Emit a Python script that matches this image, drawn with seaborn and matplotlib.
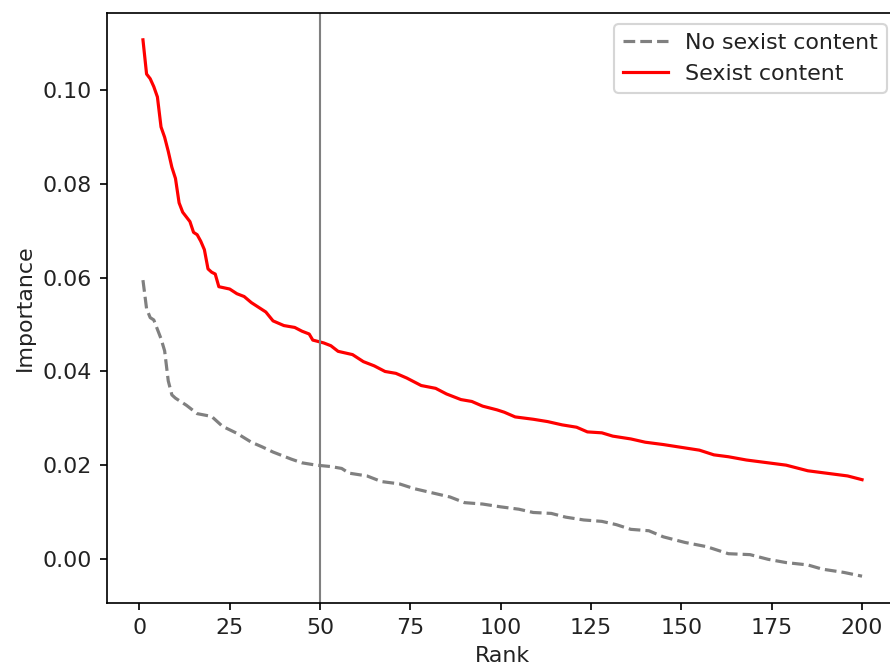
import matplotlib
matplotlib.use("Agg")
import matplotlib.pyplot as plt
import seaborn as sns
import pandas as pd

# Feature importance by rank for the two classes
rank_sexist = [1, 2, 3, 4, 5, 6, 7, 8, 9, 10, 11, 12, 13, 14, 15, 16, 17, 18, 19, 20,
               21, 22, 25, 27, 29, 31, 33, 35, 37, 40, 43, 45, 47, 48, 51, 53, 55, 59,
               62, 65, 68, 71, 74, 78, 82, 85, 89, 92, 95, 99, 101, 104, 109, 113, 117,
               121, 124, 128, 131, 136, 140, 145, 150, 155, 159, 163, 168, 173, 179,
               185, 190, 196, 200]
imp_sexist = [0.1108, 0.1035, 0.1025, 0.1008, 0.0986, 0.0922, 0.0900, 0.0870, 0.0836,
              0.0812, 0.0760, 0.0740, 0.0730, 0.0720, 0.0697, 0.0692, 0.0678, 0.0660,
              0.0619, 0.0612, 0.0608, 0.0581, 0.0576, 0.0566, 0.0560, 0.0547, 0.0537,
              0.0527, 0.0508, 0.0498, 0.0494, 0.0486, 0.0480, 0.0467, 0.0461, 0.0455,
              0.0443, 0.0436, 0.0421, 0.0412, 0.0400, 0.0396, 0.0386, 0.0370, 0.0364,
              0.0352, 0.0340, 0.0336, 0.0326, 0.0318, 0.0313, 0.0303, 0.0298, 0.0293,
              0.0286, 0.0281, 0.0271, 0.0269, 0.0262, 0.0256, 0.0249, 0.0244, 0.0238,
              0.0232, 0.0222, 0.0218, 0.0211, 0.0206, 0.0200, 0.0188, 0.0183, 0.0177,
              0.0169]

rank_non = [1, 2, 3, 4, 5, 6, 7, 8, 9, 10, 13, 16, 20, 23, 27, 31, 34, 37, 42, 45, 49,
            53, 56, 58, 63, 67, 72, 76, 81, 86, 90, 95, 100, 105, 109, 114, 118, 123,
            128, 132, 136, 141, 145, 151, 157, 163, 169, 174, 179, 185, 189, 195, 200]
imp_non = [0.0595, 0.0534, 0.0515, 0.0510, 0.0490, 0.0470, 0.0444, 0.0380, 0.0350,
           0.0343, 0.0328, 0.0310, 0.0304, 0.0283, 0.0268, 0.0249, 0.0239, 0.0228,
           0.0213, 0.0205, 0.0200, 0.0197, 0.0193, 0.0183, 0.0177, 0.0165, 0.0160,
           0.0150, 0.0141, 0.0132, 0.0120, 0.0117, 0.0111, 0.0106, 0.0099, 0.0097,
           0.0089, 0.0083, 0.0080, 0.0073, 0.0063, 0.0060, 0.0047, 0.0035, 0.0026,
           0.0011, 0.0009, -0.0001, -0.0008, -0.0013, -0.0022, -0.0029, -0.0037]

labels = ["No sexist content", "Sexist content"]
cutoff_rank = 50

df_non = pd.DataFrame({"Rank": rank_non, "Importance": imp_non})
df_sex = pd.DataFrame({"Rank": rank_sexist, "Importance": imp_sexist})

plt.rcParams["font.size"] = 10.5
plt.rcParams["text.color"] = "#222222"
plt.rcParams["axes.labelcolor"] = "#222222"
plt.rcParams["xtick.labelcolor"] = "#222222"
plt.rcParams["ytick.labelcolor"] = "#222222"

dpi = 152
fig = plt.figure(figsize=(890 / dpi, 670 / dpi), dpi=dpi)
ax = fig.add_axes([107 / 890, 67 / 670, (898 - 107) / 890, (603 - 13) / 670])

sns.lineplot(data=df_non, x="Rank", y="Importance", ax=ax, color="gray",
             linestyle="--", label=labels[0])
sns.lineplot(data=df_sex, x="Rank", y="Importance", ax=ax, color="red",
             label=labels[1])
ax.axvline(cutoff_rank, color="gray", linewidth=1)

ax.set_xticks([0, 25, 50, 75, 100, 125, 150, 175, 200])
ax.set_yticks([0.00, 0.02, 0.04, 0.06, 0.08, 0.10])
ax.legend(loc="upper right")

fig.savefig("out.png", dpi=dpi)
